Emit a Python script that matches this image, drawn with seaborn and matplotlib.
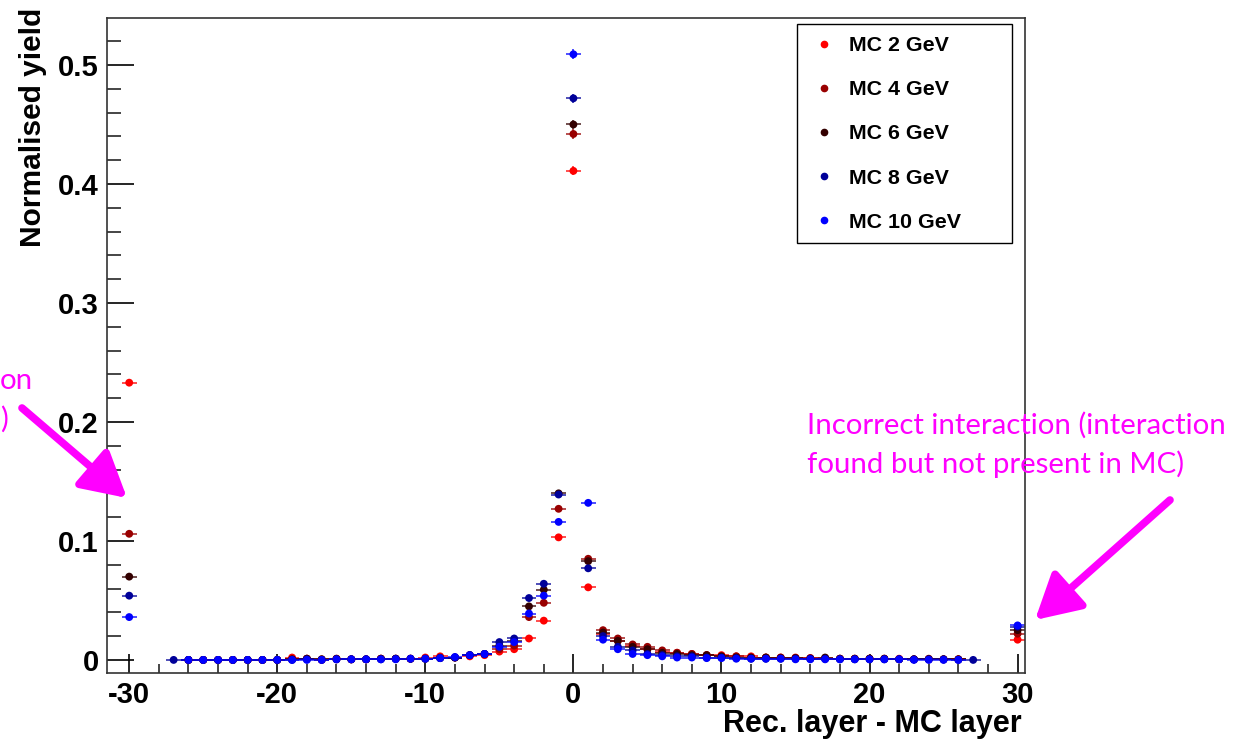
import numpy as np
import pandas as pd
import matplotlib
matplotlib.use("Agg")
import matplotlib.pyplot as plt
import seaborn as sns
from matplotlib.lines import Line2D
from matplotlib.patches import FancyArrowPatch, Rectangle
from matplotlib.ticker import MultipleLocator, FuncFormatter

# ---------------- data ----------------
layers = [-30] + list(range(-27, 28)) + [30]

nan = np.nan
mc2 = [0.233, nan,
       0, 0, 0, 0, 0, 0, 0, 0.002, 0.001, 0, 0.001, 0.0005, 0.0005, 0.001, 0.001, 0.001, 0.002, 0.003, 0.002,
       0.003, 0.004, 0.007, 0.009, 0.018, 0.033, 0.103,
       0.411,
       0.061, 0.022, 0.016, 0.012, 0.009, 0.007, 0.006, 0.005, 0.004, 0.004, 0.003, 0.003, 0.002, 0.002,
       0.002, 0.0015, 0.0015, 0.001, 0.001, 0.001, 0.001, 0.001, 0.0005, 0.0005, 0.0005, 0.0005,
       nan, 0.017]
mc4 = [0.106, nan,
       0, 0, 0, 0, 0, 0, 0, 0.0005, 0.001, 0.0005, 0.0005, 0.0005, 0.0005, 0.001, 0.001, 0.001, 0.001, 0.002, 0.002,
       0.004, 0.005, 0.009, 0.012, 0.036, 0.048, 0.127,
       0.442,
       0.085, 0.025, 0.018, 0.013, 0.011, 0.008, 0.006, 0.005, 0.004, 0.003, 0.003, 0.002, 0.002, 0.002,
       0.0015, 0.0015, 0.001, 0.001, 0.001, 0.001, 0.001, 0.0005, 0.0005, 0.001, 0.0005, 0.0005,
       nan, 0.022]
mc6 = [0.070, nan,
       0, 0, 0, 0, 0, 0, 0, 0.0005, 0.001, 0.0005, 0.001, 0.0005, 0.0005, 0.001, 0.001, 0.001, 0.001, 0.0015, 0.002,
       0.004, 0.005, 0.012, 0.016, 0.045, 0.059, 0.140,
       0.450,
       0.083, 0.023, 0.016, 0.011, 0.009, 0.006, 0.005, 0.004, 0.004, 0.003, 0.002, 0.002, 0.002, 0.0015,
       0.0015, 0.001, 0.002, 0.001, 0.001, 0.001, 0.001, 0.0005, 0.0005, 0.0005, 0.0005, 0.0005,
       nan, 0.025]
mc8 = [0.054, 0,
       0, 0, 0, 0, 0, 0, 0, 0, 0.0005, 0, 0.0005, 0.0005, 0.0005, 0.0005, 0.001, 0.001, 0.001, 0.0015, 0.002,
       0.004, 0.005, 0.015, 0.018, 0.052, 0.064, 0.139,
       0.472,
       0.077, 0.020, 0.011, 0.008, 0.005, 0.004, 0.003, 0.003, 0.002, 0.002, 0.0015, 0.001, 0.001, 0.001,
       0.001, 0.001, 0.001, 0.0005, 0.0005, 0.0005, 0.0005, 0.0005, 0.0005, 0.0005, 0.0005, 0,
       0, 0.028]
mc10 = [0.036, nan,
        0, 0, 0, 0, 0, 0, 0, 0, 0, 0, 0.0005, 0.0005, 0.0005, 0.0005, 0.0005, 0.001, 0.001, 0.0015, 0.0025,
        0.004, 0.005, 0.011, 0.015, 0.039, 0.054, 0.116,
        0.509,
        0.132, 0.017, 0.009, 0.005, 0.004, 0.003, 0.002, 0.002, 0.0015, 0.0015, 0.001, 0.001, 0.001, 0.001,
        0.0005, 0.0005, 0.0005, 0.0005, 0.0005, 0.0005, 0.0005, 0.0005, 0, 0, 0, 0,
        nan, 0.029]

series_names = ["MC 2 GeV", "MC 4 GeV", "MC 6 GeV", "MC 8 GeV", "MC 10 GeV"]
series_values = [mc2, mc4, mc6, mc8, mc10]
series_colors = ["#ff0000", "#990000", "#330000", "#000099", "#0000ff"]
n_events = 30000  # statistical uncertainty scale

rows = []
for name, vals in zip(series_names, series_values):
    for x, v in zip(layers, vals):
        if not np.isnan(v):
            rows.append({"layer": x, "yield": v, "series": name})
df = pd.DataFrame(rows)

# ---------------- style ----------------
sns.set_theme(style="ticks")
plt.rcParams["font.family"] = ["Liberation Sans", "DejaVu Sans"]
plt.rcParams["axes.unicode_minus"] = False
plt.rcParams["text.color"] = "black"

W, H = 1242, 741
fig = plt.figure(figsize=(W / 100, H / 100), dpi=100)
fig.patch.set_facecolor("white")


def fx(px):
    return px / W


def fy(py):
    return 1 - py / H


ax = fig.add_axes([fx(107), fy(673), fx(1025) - fx(107), fy(18) - fy(673)])
ax.set_facecolor("white")

for name, col in zip(series_names, series_colors):
    d = df[df["series"] == name]
    ax.errorbar(d["layer"], d["yield"], xerr=0.5, yerr=np.sqrt(d["yield"] / n_events),
                fmt="none", ecolor=col, elinewidth=1.3, alpha=0.75, capsize=0, zorder=2)
    sns.scatterplot(data=d, x="layer", y="yield", color=col, s=32, edgecolor="none",
                    linewidth=0, ax=ax, zorder=3, legend=False)

ax.set_xlim(-31.5, 30.5)
ax.set_ylim(-0.011, 0.5395)
ax.set_xlabel("")
ax.set_ylabel("")

ax.xaxis.set_major_locator(MultipleLocator(10))
ax.xaxis.set_minor_locator(MultipleLocator(2))
ax.yaxis.set_major_locator(MultipleLocator(0.1))
ax.yaxis.set_minor_locator(MultipleLocator(0.02))
ax.yaxis.set_major_formatter(FuncFormatter(lambda v, p: f"{v:g}" if abs(v) > 1e-9 else "0"))
ax.xaxis.set_major_formatter(FuncFormatter(lambda v, p: f"{int(round(v))}"))

ax.tick_params(axis="x", which="major", direction="in", length=13.7, width=1.2, pad=6,
               labelsize=21, colors="black", top=False)
ax.tick_params(axis="x", which="minor", direction="in", length=6.5, width=1.2, top=False)
ax.tick_params(axis="y", which="major", direction="in", length=19.5, width=1.2, pad=6,
               labelsize=21, colors="black", right=False)
ax.tick_params(axis="y", which="minor", direction="in", length=10, width=1.2, right=False)
for lab in ax.get_xticklabels() + ax.get_yticklabels():
    lab.set_fontweight("bold")
for sp in ax.spines.values():
    sp.set_visible(True)
    sp.set_linewidth(1.2)
    sp.set_color("#333333")

# axis titles
fig.text(fx(1022), fy(724), "Rec. layer - MC layer", ha="right", va="center",
         fontsize=22, fontweight="bold", color="black")
fig.text(fx(33), fy(8), "Normalised yield", ha="center", va="top", rotation=90,
         fontsize=21.5, fontweight="bold", color="black")

# legend
fig.add_artist(Rectangle((fx(797), fy(243)), fx(1012) - fx(797), fy(24) - fy(243),
                         transform=fig.transFigure, fill=False, edgecolor="black", linewidth=1.0))
handles = [Line2D([], [], marker="o", ls="", color=c, markersize=4.5) for c in series_colors]
leg = fig.legend(handles, series_names, loc="upper left", bbox_to_anchor=(fx(813), fy(36)),
                 frameon=False, borderpad=0, borderaxespad=0, handlelength=1.0, handletextpad=0.7,
                 labelspacing=1.18, prop={"family": "Liberation Sans", "weight": "bold", "size": 15.4})
for t in leg.get_texts():
    t.set_color("black")

# annotations
mag = "#ff00ff"
afont = dict(family=["Lato", "DejaVu Sans"], fontsize=21.2, color=mag)
fig.text(fx(807), fy(434), "Incorrect interaction (interaction", ha="left", va="baseline", **afont)
fig.text(fx(807), fy(473), "found but not present in MC)", ha="left", va="baseline", **afont)
fig.text(fx(0), fy(389), "on", ha="left", va="baseline", **afont)
fig.text(fx(0), fy(428), ")", ha="left", va="baseline", **afont)

for tail, tip in [((22, 408), (127, 498)), ((1170, 500), (1035, 620))]:
    arr = FancyArrowPatch((fx(tail[0]), fy(tail[1])), (fx(tip[0]), fy(tip[1])),
                          transform=fig.transFigure, arrowstyle="-|>,head_length=0.45,head_width=0.25",
                          mutation_scale=60, color=mag, lw=5.5, shrinkA=0, shrinkB=0)
    fig.add_artist(arr)

fig.savefig("out.png", dpi=100, facecolor="white")
